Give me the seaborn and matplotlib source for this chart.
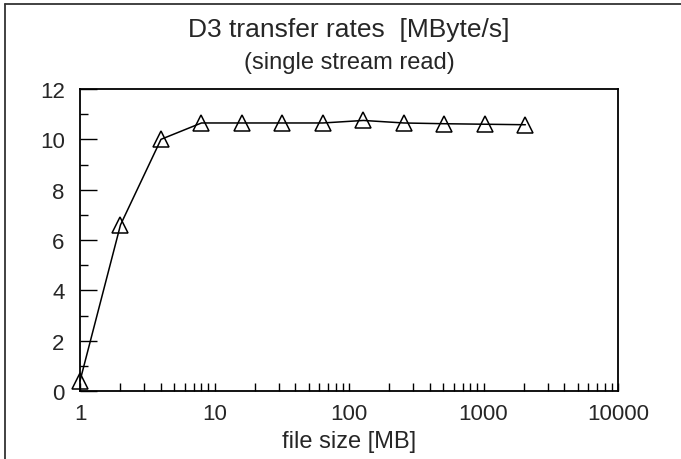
import matplotlib
matplotlib.use('Agg')
import matplotlib.pyplot as plt
from matplotlib.ticker import LogLocator, FixedLocator, NullFormatter
from matplotlib.lines import Line2D
import seaborn as sns
import pandas as pd

# file sizes [MB] and measured read rates [MByte/s]
file_size = [1, 2, 4, 8, 16, 32, 64, 128, 256, 512, 1024, 2048]
rate = [0.4, 6.6, 10.0, 10.65, 10.65, 10.65, 10.65, 10.75, 10.65, 10.62, 10.6, 10.58]
x_ticks = [1, 10, 100, 1000, 10000]
x_labels = ['1', '10', '100', '1000', '10000']

sns.set_style('ticks')
plt.rcParams['font.family'] = ['Liberation Sans', 'DejaVu Sans']

df = pd.DataFrame({'size': file_size, 'rate': rate})

fig = plt.figure(figsize=(6.81, 4.6), dpi=100)
ax = fig.add_axes([80 / 681, 1 - 392 / 460, 538 / 681, 302 / 460])

sns.lineplot(data=df, x='size', y='rate', ax=ax, color='black', linewidth=1.1,
             marker='^', markersize=12, markerfacecolor='none',
             markeredgecolor='black', markeredgewidth=1.1, clip_on=False)

ax.set_xscale('log')
ax.set_xlim(1, 10000)
ax.set_ylim(0, 12)
ax.xaxis.set_major_locator(FixedLocator(x_ticks))
ax.set_xticklabels(x_labels)
ax.xaxis.set_minor_locator(LogLocator(base=10, subs=range(2, 10)))
ax.xaxis.set_minor_formatter(NullFormatter())
ax.set_yticks(range(0, 13, 2))
ax.set_yticks(range(0, 13, 1), minor=True)

ax.tick_params(axis='x', which='both', direction='in', length=6, width=1,
               labelsize=16, pad=9, color='black')
ax.tick_params(axis='y', which='major', direction='in', length=12, width=1,
               labelsize=16, pad=11, color='black')
ax.tick_params(axis='y', which='minor', direction='in', length=6, width=1,
               color='black')

for sp in ax.spines.values():
    sp.set_visible(True)
    sp.set_color('black')
    sp.set_linewidth(1.3)

ax.set_xlabel('file size [MB]', fontsize=17, labelpad=4)
ax.set_ylabel('')

cx = 0.5 * (80 + 618) / 681
fig.text(cx, 1 - 37 / 460, 'D3 transfer rates  [MByte/s]',
         ha='center', va='baseline', fontsize=19)
fig.text(cx, 1 - 69 / 460, '(single stream read)',
         ha='center', va='baseline', fontsize=17)

# outer frame (left and top edges visible)
fig.add_artist(Line2D([5 / 681, 5 / 681], [0, 1 - 5 / 460], color='#333333',
                      linewidth=1.3, transform=fig.transFigure))
fig.add_artist(Line2D([5 / 681, 1], [1 - 5 / 460, 1 - 5 / 460], color='#333333',
                      linewidth=1.3, transform=fig.transFigure))

fig.savefig('out.png', dpi=100)
